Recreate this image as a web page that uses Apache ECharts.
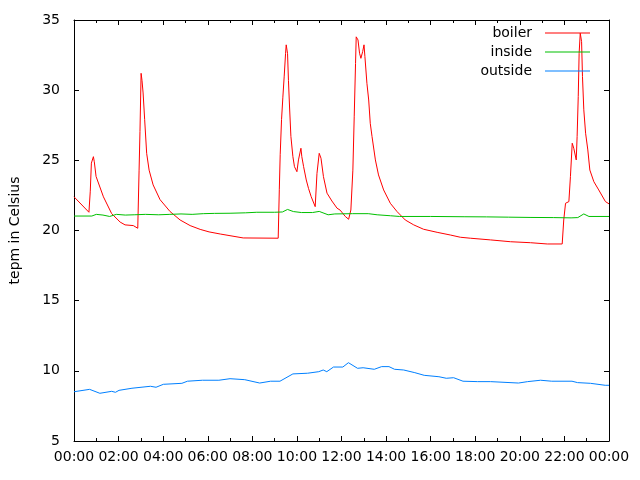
<!DOCTYPE html>
<html>
<head>
<meta charset="utf-8">
<script src="https://cdn.jsdelivr.net/npm/echarts@6/dist/echarts.min.js"></script>
<style>
  html, body { margin: 0; padding: 0; background: #fff; }
  #chart { width: 640px; height: 480px; }
</style>
</head>
<body>
<div id="chart"></div>
<script>
// hours since midnight, temperatures
var boilerHours = [0, 0.67, 0.73, 0.78, 0.87, 0.91, 0.99, 1.32, 1.69, 2.07, 2.29, 2.66, 2.86,
  2.92, 2.96, 3.01, 3.05, 3.10, 3.17, 3.26, 3.37, 3.55, 3.86, 4.31, 4.76, 5.21, 5.66, 6.06,
  6.56, 7.59, 9.16, 9.21, 9.25, 9.31, 9.37, 9.43, 9.49, 9.52, 9.58, 9.62, 9.67, 9.73, 9.82,
  9.89, 10.0, 10.07, 10.18, 10.22, 10.30, 10.42, 10.52, 10.64, 10.82, 10.9, 11.0, 11.08,
  11.19, 11.35, 11.57, 11.8, 11.94, 12.17, 12.32, 12.42, 12.51, 12.57, 12.63, 12.66, 12.74,
  12.81, 12.87, 12.95, 13.01, 13.05, 13.14, 13.22, 13.29, 13.37, 13.52, 13.66, 13.89, 14.19,
  14.49, 14.86, 15.24, 15.68, 16.29, 16.88, 17.33, 17.78, 18.68, 19.58, 20.48, 21.23, 21.9,
  21.97, 22.05, 22.2, 22.27, 22.35, 22.42, 22.53, 22.57, 22.62, 22.66, 22.71, 22.77, 22.81,
  22.87, 22.95, 23.05, 23.14, 23.32, 23.54, 23.84, 24.0];
var boilerTemps = [22.4, 21.3, 22.8, 24.8, 25.26, 24.9, 23.85, 22.4, 21.2, 20.6, 20.4, 20.35, 20.16,
  24.3, 27.05, 31.2, 30.7, 29.8, 27.9, 25.5, 24.3, 23.25, 22.2, 21.35, 20.75, 20.35, 20.08, 19.9,
  19.75, 19.47, 19.45, 22.9, 25.4, 27.9, 29.5, 31.0, 32.6, 33.23, 32.6, 30.7, 28.8, 26.7, 25.26,
  24.55, 24.19, 25.03, 25.86, 25.26, 24.55, 23.6, 23.0, 22.41, 21.7, 24.07, 25.5, 25.15,
  23.84, 22.66, 22.1, 21.59, 21.45, 21.0, 20.8, 21.46, 24.3, 28.1, 31.9, 33.8, 33.58,
  32.63, 32.27, 32.75, 33.23, 32.39, 30.49, 29.3, 27.64, 26.69, 25.03, 23.96, 22.89, 21.94,
  21.35, 20.75, 20.4, 20.09, 19.87, 19.68, 19.52, 19.45, 19.33, 19.2, 19.13, 19.04, 19.04,
  20.75, 21.94, 22.06, 23.84, 26.22, 25.86, 25.03, 26.69, 29.54, 32.63, 34.06, 33.46, 30.97,
  28.6, 26.93, 25.74, 24.31, 23.48, 22.89, 22.06, 21.9];

var insideHours = [0, 0.8, 1.0, 1.3, 1.6, 1.9, 2.3, 2.7, 3.2, 3.8, 4.3, 4.8, 5.3, 5.8, 6.3, 7.0,
  7.7, 8.2, 9.0, 9.35, 9.58, 9.84, 10.2, 10.7, 11.0, 11.4, 11.7, 12.5, 13.2, 13.6, 14.2, 14.6,
  16, 17.5, 18.5, 19.5, 20.5, 21.5, 22.3, 22.6, 22.87, 23.1, 24];
var insideTemps = [21.03, 21.03, 21.15, 21.1, 21.0, 21.15, 21.1, 21.12, 21.15, 21.12, 21.15, 21.18,
  21.15, 21.2, 21.22, 21.23, 21.26, 21.3, 21.3, 21.32, 21.5, 21.35, 21.28, 21.28, 21.36, 21.12,
  21.18, 21.2, 21.2, 21.12, 21.05, 21.0, 21.0, 20.98, 20.97, 20.95, 20.93, 20.92, 20.9, 20.92,
  21.18, 21.0, 21.0];

var outsideHours = [0, 0.70, 1.16, 1.69, 1.86, 2.02, 2.60, 3.43, 3.68, 4.01, 4.84, 5.09, 5.76, 6.50,
  7.0, 7.66, 8.33, 8.82, 9.24, 9.82, 10.48, 10.98, 11.18, 11.34, 11.64, 12.06, 12.31, 12.72,
  12.97, 13.47, 13.80, 14.13, 14.38, 14.79, 15.29, 15.71, 16.37, 16.70, 17.03, 17.45, 18.11,
  18.69, 19.94, 20.35, 20.93, 21.43, 22.34, 22.59, 23.17, 23.25, 23.83, 24];
var outsideTemps = [8.51, 8.68, 8.4, 8.54, 8.47, 8.61, 8.76, 8.9, 8.83, 9.04, 9.11, 9.26, 9.33, 9.33,
  9.44, 9.37, 9.13, 9.26, 9.26, 9.78, 9.83, 9.94, 10.06, 9.94, 10.27, 10.27, 10.58, 10.18,
  10.22, 10.11, 10.3, 10.3, 10.11, 10.06, 9.87, 9.68, 9.58, 9.47, 9.51, 9.26, 9.23,
  9.23, 9.13, 9.23, 9.33, 9.26, 9.26, 9.16, 9.11, 8.97, 8.97, 8.97];

var xTicks = [0, 2, 4, 6, 8, 10, 12, 14, 16, 18, 20, 22, 24];

function pairs(hours, temps) {
  return hours.map(function(h, i) { return [h, temps[i]]; });
}
function hourLabel(v) {
  var h = Math.round(v) % 24;
  return (h < 10 ? "0" : "") + h + ":00";
}

var font = "DejaVu Sans";
var chart = echarts.init(document.getElementById("chart"), null, { renderer: "canvas" });

var tickStyle = { show: true, inside: true, length: 5, lineStyle: { color: "#000", width: 1 } };
var minorStyle = { show: true, splitNumber: 2, length: 3, lineStyle: { color: "#000", width: 1 } };
var lineStyle = { show: true, onZero: false, lineStyle: { color: "#000", width: 1 } };

chart.setOption({
  animation: false,
  backgroundColor: "#fff",
  textStyle: { fontFamily: font },
  grid: { left: 74, right: 31, top: 20, bottom: 39 },
  legend: {
    orient: "vertical",
    right: 45,
    top: 21,
    align: "right",
    icon: "rect",
    itemWidth: 45,
    itemHeight: 1,
    itemGap: 5,
    textStyle: { fontFamily: font, fontSize: 14, color: "#000", padding: [0, 8, 0, 0], lineHeight: 14 },
    data: ["boiler", "inside", "outside"]
  },
  xAxis: [
    {
      type: "value",
      min: 0,
      max: 24,
      interval: 2,
      axisLine: lineStyle,
      axisTick: tickStyle,
      minorTick: minorStyle,
      splitLine: { show: false },
      axisLabel: {
        margin: 9,
        fontFamily: font,
        fontSize: 14,
        color: "#000",
        formatter: function(v) { return xTicks.indexOf(v) >= 0 ? hourLabel(v) : ""; }
      }
    },
    {
      type: "value",
      position: "top",
      min: 0,
      max: 24,
      interval: 2,
      axisLine: lineStyle,
      axisTick: tickStyle,
      minorTick: minorStyle,
      splitLine: { show: false },
      axisLabel: { show: false }
    }
  ],
  yAxis: [
    {
      type: "value",
      min: 5,
      max: 35,
      interval: 5,
      name: "tepm in Celsius",
      nameLocation: "middle",
      nameGap: 52,
      nameTextStyle: { fontFamily: font, fontSize: 14, color: "#000" },
      axisLine: lineStyle,
      axisTick: tickStyle,
      splitLine: { show: false },
      axisLabel: { margin: 14, fontFamily: font, fontSize: 14, color: "#000" }
    },
    {
      type: "value",
      position: "right",
      min: 5,
      max: 35,
      interval: 5,
      axisLine: lineStyle,
      axisTick: tickStyle,
      splitLine: { show: false },
      axisLabel: { show: false }
    }
  ],
  series: [
    {
      name: "boiler",
      type: "line",
      symbol: "none",
      color: "#ff0000",
      lineStyle: { width: 1 },
      data: pairs(boilerHours, boilerTemps)
    },
    {
      name: "inside",
      type: "line",
      symbol: "none",
      color: "#00c000",
      lineStyle: { width: 1 },
      data: pairs(insideHours, insideTemps)
    },
    {
      name: "outside",
      type: "line",
      symbol: "none",
      color: "#0080ff",
      lineStyle: { width: 1 },
      data: pairs(outsideHours, outsideTemps)
    }
  ]
});
</script>
</body>
</html>
